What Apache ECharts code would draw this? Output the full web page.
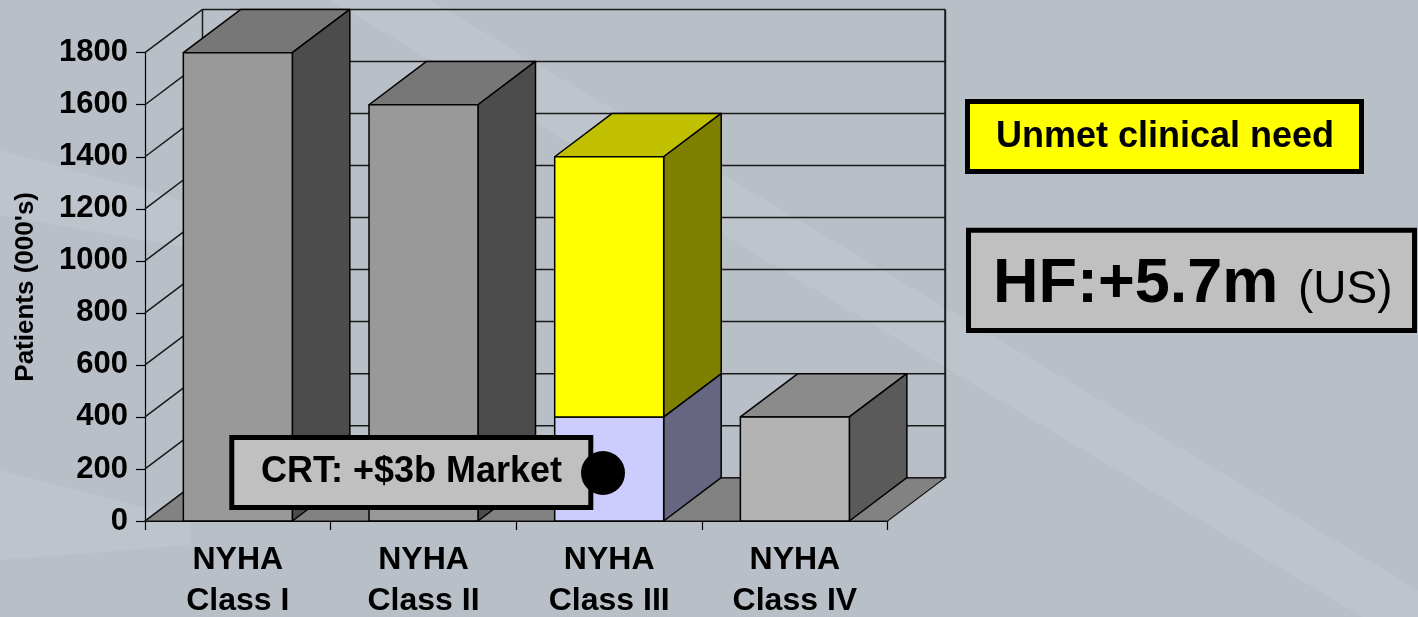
<!DOCTYPE html>
<html>
<head>
<meta charset="utf-8">
<title>Patients by NYHA class</title>
<script src="https://cdn.jsdelivr.net/npm/echarts@6/dist/echarts.min.js"></script>
<style>
  html, body { margin: 0; padding: 0; background: #b8bfc7; }
  #chart { width: 1418px; height: 617px; }
</style>
</head>
<body>
<div id="chart"></div>
<script>
// data
const categories = ["NYHA\nClass I", "NYHA\nClass II", "NYHA\nClass III", "NYHA\nClass IV"];
const patients = [1800, 1600, 400, 400];   // grey / lavender part
const unmetNeed = [0, 0, 1000, 0];         // yellow part stacked on top
const yTicks = [0, 200, 400, 600, 800, 1000, 1200, 1400, 1600, 1800];

const crtText = "CRT: +$3b Market";
const unmetText = "Unmet clinical need";
const hfText = "HF:+5.7m";
const hfSuffix = "(US)";

// 3D depth offset of the bars and walls
const DX = 57.5;
const DY = -43.3;
const FONT = "Liberation Sans, Arial, sans-serif";

const baseFaces = [
  { front: "#999999", top: "#777777", side: "#4c4c4c" },
  { front: "#999999", top: "#777777", side: "#4c4c4c" },
  { front: "#ccccff", top: "#9999cc", side: "#666680" },
  { front: "#b3b3b3", top: "#8b8b8b", side: "#5a5a5a" },
];
const unmetFaces = { front: "#ffff00", top: "#c0c000", side: "#808000" };

const baseData = categories.map((c, i) => [i, 0, patients[i]]);
const unmetData = categories
  .map((c, i) => [i, patients[i], patients[i] + unmetNeed[i]])
  .filter((d) => d[2] > d[1]);

function box3d(api, faces) {
  const i = api.value(0);
  const bottom = api.coord([i, api.value(1)]);
  const top = api.coord([i, api.value(2)]);
  const w = api.size([1, 0])[0] * 0.587;
  const xl = bottom[0] - w / 2;
  const xr = bottom[0] + w / 2;
  const yb = bottom[1];
  const yt = top[1];
  const edge = { stroke: "#000", lineWidth: 1.5, lineJoin: "round" };
  return {
    type: "group",
    children: [
      {
        type: "polygon",
        shape: { points: [[xl, yt], [xl + DX, yt + DY], [xr + DX, yt + DY], [xr, yt]] },
        style: Object.assign({ fill: faces.top }, edge),
      },
      {
        type: "polygon",
        shape: { points: [[xr, yb], [xr + DX, yb + DY], [xr + DX, yt + DY], [xr, yt]] },
        style: Object.assign({ fill: faces.side }, edge),
      },
      {
        type: "rect",
        shape: { x: xl, y: yt, width: w, height: yb - yt },
        style: Object.assign({ fill: faces.front }, edge),
      },
    ],
  };
}

function wallItem(params, api) {
  const cs = params.coordSys;
  const v = api.value(1);
  const y = api.coord([0, v])[1];
  const y0 = api.coord([0, 0])[1];
  const x0 = cs.x;
  const x1 = cs.x + cs.width;
  const line = { stroke: "#1a1a1a", lineWidth: 1.5 };
  const children = [];
  if (v === 0) {
    children.push({
      type: "polygon",
      shape: { points: [[x0, y], [x1, y], [x1 + DX, y + DY], [x0 + DX, y + DY]] },
      style: { fill: "#828282", stroke: "#111", lineWidth: 1.2 },
    });
  }
  children.push({
    type: "line",
    shape: { x1: x0, y1: y, x2: x0 + DX, y2: y + DY },
    style: line,
  });
  children.push({
    type: "line",
    shape: { x1: x0 + DX, y1: y + DY, x2: x1 + DX, y2: y + DY },
    style: line,
  });
  if (v === yTicks[yTicks.length - 1]) {
    children.push({
      type: "line",
      shape: { x1: x0 + DX, y1: y + DY, x2: x0 + DX, y2: y0 + DY },
      style: line,
    });
    children.push({
      type: "line",
      shape: { x1: x1 + DX, y1: y + DY, x2: x1 + DX, y2: y0 + DY },
      style: { stroke: "#1a1a1a", lineWidth: 2 },
    });
  }
  return { type: "group", children: children };
}

const chart = echarts.init(document.getElementById("chart"));

const option = {
  animation: false,
  backgroundColor: "#b8bfc7",
  textStyle: { fontFamily: FONT },
  grid: {
    left: 145, right: 530.3, top: 52.7, bottom: 96,
    containLabel: false,
    outerBoundsMode: "none",
  },
  xAxis: {
    type: "category",
    data: categories,
    boundaryGap: true,
    axisLine: { show: true, lineStyle: { color: "#000", width: 1.2 } },
    axisTick: { show: true, length: 9, lineStyle: { color: "#000", width: 1.2 } },
    axisLabel: {
      interval: 0,
      color: "#000",
      fontSize: 32,
      fontWeight: "bold",
      fontFamily: FONT,
      lineHeight: 41,
      margin: 19,
    },
    splitLine: { show: false },
  },
  yAxis: {
    type: "value",
    min: yTicks[0],
    max: yTicks[yTicks.length - 1],
    interval: yTicks[1] - yTicks[0],
    name: "Patients (000's)",
    nameLocation: "middle",
    nameRotate: 90,
    nameGap: 106,
    nameTextStyle: { color: "#000", fontSize: 26, fontWeight: "bold", fontFamily: FONT },
    axisLine: { show: true, lineStyle: { color: "#000", width: 1.2 } },
    axisTick: { show: true, length: 9, lineStyle: { color: "#000", width: 1.2 } },
    axisLabel: {
      color: "#000",
      fontSize: 31,
      fontWeight: "bold",
      fontFamily: FONT,
      margin: 17,
      formatter: (v) => String(v),
    },
    splitLine: { show: false },
  },
  series: [
    {
      name: "walls",
      type: "custom",
      z: 1,
      clip: false,
      silent: true,
      encode: { x: 0, y: 1 },
      data: yTicks.map((v) => [0, v]),
      renderItem: wallItem,
    },
    {
      name: "Patients",
      type: "custom",
      z: 2,
      clip: false,
      encode: { x: 0, y: [1, 2] },
      data: baseData,
      renderItem: (params, api) => box3d(api, baseFaces[api.value(0)]),
    },
    {
      name: "Unmet clinical need",
      type: "custom",
      z: 3,
      clip: false,
      encode: { x: 0, y: [1, 2] },
      data: unmetData,
      renderItem: (params, api) => box3d(api, unmetFaces),
    },
  ],
  graphic: [
    // faint light streaks in the slide background
    {
      type: "polygon", z: -10, silent: true,
      shape: { points: [[330, 0], [430, 0], [1418, 590], [1418, 650]] },
      style: { fill: "rgba(255,255,255,0.09)" },
    },
    {
      type: "polygon", z: -10, silent: true,
      shape: { points: [[0, 150], [0, 215], [200, 250], [200, 205]] },
      style: { fill: "rgba(255,255,255,0.09)" },
    },
    {
      type: "polygon", z: -10, silent: true,
      shape: { points: [[0, 470], [0, 560], [190, 545], [190, 520]] },
      style: { fill: "rgba(255,255,255,0.09)" },
    },
    // CRT callout
    {
      type: "rect", z: 100,
      shape: { x: 231.8, y: 437.5, width: 359, height: 70 },
      style: { fill: "#c0c0c0", stroke: "#000", lineWidth: 5 },
    },
    {
      type: "text", z: 101,
      x: 411.5, y: 472.5,
      style: {
        text: crtText, fill: "#000", font: "bold 36px " + FONT,
        align: "center", verticalAlign: "middle",
      },
    },
    {
      type: "circle", z: 102,
      shape: { cx: 603, cy: 473, r: 22 },
      style: { fill: "#000" },
    },
    // unmet need box
    {
      type: "rect", z: 100,
      shape: { x: 967.5, y: 101.5, width: 394, height: 70 },
      style: { fill: "#ffff00", stroke: "#000", lineWidth: 5 },
    },
    {
      type: "text", z: 101,
      x: 1165, y: 137.5,
      style: {
        text: unmetText, fill: "#000", font: "bold 36px " + FONT,
        align: "center", verticalAlign: "middle",
      },
    },
    // HF box
    {
      type: "rect", z: 100,
      shape: { x: 968.5, y: 230.2, width: 446, height: 100.3 },
      style: { fill: "#c0c0c0", stroke: "#000", lineWidth: 5 },
    },
    {
      type: "text", z: 101,
      x: 993, y: 285,
      style: {
        text: hfText, fill: "#000", font: "bold 63px " + FONT,
        align: "left", verticalAlign: "middle",
      },
    },
    {
      type: "text", z: 101,
      x: 1298, y: 290,
      style: {
        text: hfSuffix, fill: "#000", font: "46px " + FONT,
        align: "left", verticalAlign: "middle",
      },
    },
  ],
};

chart.setOption(option);
window.addEventListener("resize", () => {
  chart.resize();
});
</script>
</body>
</html>
